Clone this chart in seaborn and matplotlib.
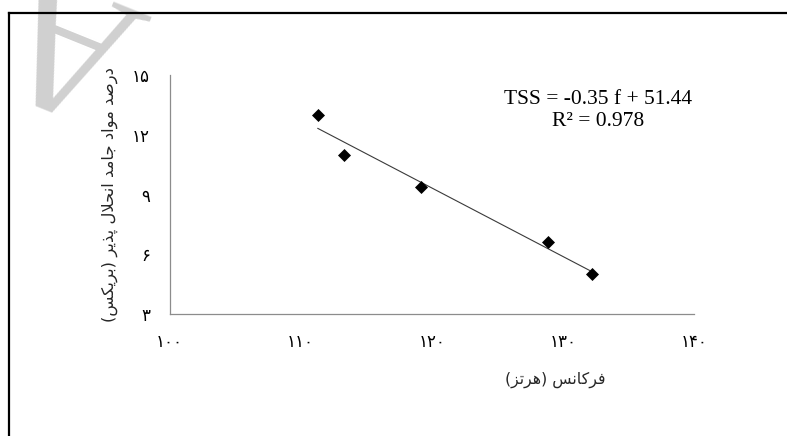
import matplotlib
matplotlib.use("Agg")
import matplotlib.pyplot as plt
from matplotlib.lines import Line2D
import seaborn as sns
import numpy as np
import pandas as pd

# ---------------- data ----------------
frequency = [111.3, 113.3, 119.2, 128.9, 132.2]
tss = [13.0, 11.0, 9.4, 6.6, 5.0]
x_ticks = [100, 110, 120, 130, 140]
x_tick_labels = ["۱۰۰", "۱۱۰", "۱۲۰", "۱۳۰", "۱۴۰"]
y_ticks = [3, 6, 9, 12, 15]
y_tick_labels = ["۳", "۶", "۹", "۱۲", "۱۵"]
x_label = "فرکانس (هرتز)"
y_label = "درصد مواد جامد انحلال پذیر (بریکس)"
equation = "TSS = -0.35 f + 51.44\nR² = 0.978"
watermark = "A"

# ---------------- minimal Arabic/Persian shaping (no raqm in matplotlib) ----
FORMS = {
    'ا': ('\uFE8D', '\uFE8E'),
    'د': ('\uFEA9', '\uFEAA'),
    'ذ': ('\uFEAB', '\uFEAC'),
    'ر': ('\uFEAD', '\uFEAE'),
    'ز': ('\uFEAF', '\uFEB0'),
    'و': ('\uFEED', '\uFEEE'),
    'ب': ('\uFE8F', '\uFE90', '\uFE91', '\uFE92'),
    'پ': ('\uFB56', '\uFB57', '\uFB58', '\uFB59'),
    'ت': ('\uFE95', '\uFE96', '\uFE97', '\uFE98'),
    'ج': ('\uFE9D', '\uFE9E', '\uFE9F', '\uFEA0'),
    'ح': ('\uFEA1', '\uFEA2', '\uFEA3', '\uFEA4'),
    'س': ('\uFEB1', '\uFEB2', '\uFEB3', '\uFEB4'),
    'ص': ('\uFEB9', '\uFEBA', '\uFEBB', '\uFEBC'),
    'ف': ('\uFED1', '\uFED2', '\uFED3', '\uFED4'),
    'ک': ('\uFB8E', '\uFB8F', '\uFB90', '\uFB91'),
    'ل': ('\uFEDD', '\uFEDE', '\uFEDF', '\uFEE0'),
    'م': ('\uFEE1', '\uFEE2', '\uFEE3', '\uFEE4'),
    'ن': ('\uFEE5', '\uFEE6', '\uFEE7', '\uFEE8'),
    'ه': ('\uFEE9', '\uFEEA', '\uFEEB', '\uFEEC'),
    'ی': ('\uFBFC', '\uFBFD', '\uFBFE', '\uFBFF'),
}


def shape_rtl(s):
    tokens = []
    i = 0
    while i < len(s):
        if s[i] == 'ل' and i + 1 < len(s) and s[i + 1] == 'ا':
            tokens.append('LA')
            i += 2
        else:
            tokens.append(s[i])
            i += 1

    def is_letter(t):
        return t == 'LA' or t in FORMS

    def joins_fwd(t):
        return t in FORMS and len(FORMS[t]) == 4

    res = []
    for k, t in enumerate(tokens):
        if not is_letter(t):
            res.append(t)
            continue
        prev = tokens[k - 1] if k > 0 else None
        nxt = tokens[k + 1] if k + 1 < len(tokens) else None
        p = prev is not None and joins_fwd(prev)
        if t == 'LA':
            res.append('\uFEFC' if p else '\uFEFB')
            continue
        f = FORMS[t]
        q = len(f) == 4 and nxt is not None and is_letter(nxt)
        if p and q:
            g = f[3]
        elif p:
            g = f[1]
        elif q:
            g = f[2]
        else:
            g = f[0]
        res.append(g)
    vis = ''.join(reversed(res))
    return vis.translate(str.maketrans('()', ')('))


# ---------------- style ----------------
sns.set_style("white")
plt.rcParams['font.family'] = ['DejaVu Sans']
AXIS_GREY = '#8c8c8c'

W, H = 787, 436
fig = plt.figure(figsize=(W / 100, H / 100), dpi=100)
fig.patch.set_facecolor('white')

left_px, right_px, top_px, bottom_px = 169.5, 694.0, 75.3, 314.0
ax = fig.add_axes([left_px / W, 1 - bottom_px / H,
                   (right_px - left_px) / W, (bottom_px - top_px) / H])
ax.patch.set_alpha(0)

df = pd.DataFrame({"f": frequency, "tss": tss})
sns.regplot(data=df, x="f", y="tss", scatter=False, ci=None, truncate=True,
            line_kws=dict(color='#3a3a3a', lw=0.8, zorder=2), ax=ax)
sns.scatterplot(data=df, x="f", y="tss", marker='D', s=44, color='black',
                linewidth=0, zorder=3, ax=ax)

ax.set_xlim(x_ticks[0], x_ticks[-1])
ax.set_ylim(y_ticks[0], y_ticks[-1])
ax.set_xticks(x_ticks)
ax.set_xticklabels(x_tick_labels, fontsize=12, family='DejaVu Sans')
ax.set_yticks(y_ticks)
ax.set_yticklabels(y_tick_labels, fontsize=12, family='DejaVu Sans')

for side in ['top', 'right']:
    ax.spines[side].set_visible(False)
for side in ['left', 'bottom']:
    ax.spines[side].set_color(AXIS_GREY)
    ax.spines[side].set_linewidth(0.9)
ax.tick_params(axis='both', direction='out', length=5, width=0.8,
               color=AXIS_GREY, labelcolor='black')
ax.tick_params(axis='x', pad=9)
ax.tick_params(axis='y', pad=9)
ax.grid(False)

ax.set_xlabel(shape_rtl(x_label), fontsize=11.3, family='DejaVu Sans')
ax.xaxis.set_label_coords(0.735, -0.2765)
ax.xaxis.label.set_verticalalignment('center')

ax.set_ylabel(shape_rtl(y_label), fontsize=11.8, family='DejaVu Sans')
ax.yaxis.set_label_coords(-0.1138, 0.5)
ax.yaxis.label.set_verticalalignment('center')

ax.text(0.818, 0.8525, equation, transform=ax.transAxes, ha='center',
        va='center', multialignment='center', fontsize=15.5,
        family='Liberation Serif', color='black', linespacing=1.2)

# watermark fragment and page border (decoration)
fig.text(38 / W, 1 - 112 / H, watermark, rotation=158, rotation_mode='anchor',
         ha='center', va='top', fontsize=137, color='#d0d0d0',
         family='Liberation Serif', zorder=0)
bx, by = 9.3 / W, 1 - 13.0 / H
fig.add_artist(Line2D([bx, bx], [0, by], transform=fig.transFigure,
                      color='black', lw=1.6, solid_capstyle='projecting', zorder=5))
fig.add_artist(Line2D([bx, 1], [by, by], transform=fig.transFigure,
                      color='black', lw=1.6, solid_capstyle='projecting', zorder=5))

fig.savefig("out.png", dpi=100)
